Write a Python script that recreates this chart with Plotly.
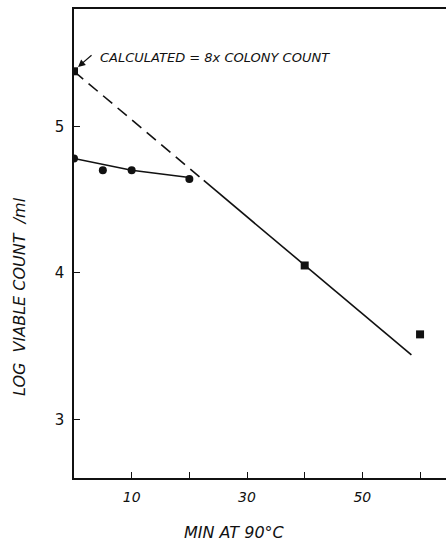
import plotly.graph_objects as go

# Data
circle_x = [0, 5, 10, 20]
circle_y = [4.78, 4.70, 4.70, 4.64]
square_x = [0, 40, 60]
square_y = [5.375, 4.05, 3.58]
fit1_x = [0, 10, 20]
fit1_y = [4.78, 4.70, 4.65]
dash_x = [0, 22.5]
dash_y = [5.375, 4.63]
fit2_x = [22.5, 58.5]
fit2_y = [4.63, 3.44]
xtick_vals = [10, 20, 30, 40, 50, 60]
xtick_text = ["10", "", "30", "", "50", ""]
ytick_vals = [3, 4, 5]
ytick_text = ["3", "4", "5"]

FONT = "DejaVu Sans"
BLACK = "#111111"

fig = go.Figure()
fig.add_trace(go.Scatter(x=fit1_x, y=fit1_y, mode="lines",
                         line=dict(color=BLACK, width=1.6)))
fig.add_trace(go.Scatter(x=dash_x, y=dash_y, mode="lines",
                         line=dict(color=BLACK, width=1.6, dash="12px,7px")))
fig.add_trace(go.Scatter(x=fit2_x, y=fit2_y, mode="lines",
                         line=dict(color=BLACK, width=1.6)))
fig.add_trace(go.Scatter(x=circle_x, y=circle_y, mode="markers",
                         marker=dict(symbol="circle", size=8, color=BLACK)))
fig.add_trace(go.Scatter(x=square_x, y=square_y, mode="markers",
                         marker=dict(symbol="square", size=8, color=BLACK)))

L, T, W, H = 74, 9, 446, 541
B = 478
PW = W - L
PH = B - T

def px(x):
    return (x - L) / PW

def py(y):
    return (B - y) / PH

fig.update_layout(
    width=W, height=H,
    margin=dict(l=L, r=0, t=T, b=H - B, pad=0),
    paper_bgcolor="white", plot_bgcolor="white",
    showlegend=False,
    font=dict(family=FONT, color=BLACK),
    xaxis=dict(range=[0, 64.5], showgrid=False, zeroline=False,
               showline=True, linecolor=BLACK, linewidth=1.5, mirror=True,
               ticks="inside", ticklen=6, tickcolor=BLACK, tickwidth=1,
               tickvals=xtick_vals, ticktext=xtick_text, ticklabelstandoff=5,
               tickfont=dict(size=14, family=FONT, style="italic", color=BLACK)),
    yaxis=dict(range=[2.60, 5.80], showgrid=False, zeroline=False,
               showline=True, linecolor=BLACK, linewidth=1.5,
               ticks="inside", ticklen=6, tickcolor=BLACK, tickwidth=1,
               tickvals=ytick_vals, ticktext=ytick_text, ticklabelstandoff=5,
               tickfont=dict(size=15, family=FONT, color=BLACK)),
)

fig.add_annotation(text="CALCULATED = 8x COLONY COUNT", xref="paper", yref="paper",
                   x=px(98), y=py(57), xanchor="left", yanchor="middle", showarrow=False,
                   font=dict(size=13, family=FONT, style="italic", color=BLACK))
fig.add_annotation(x=0.7, y=5.405, xref="x", yref="y", text="", showarrow=True,
                   ax=15, ay=-13, arrowhead=2, arrowsize=1.2, arrowwidth=1.2,
                   arrowcolor=BLACK)
fig.add_annotation(text="MIN AT 90°C", xref="paper", yref="paper",
                   x=px(234), y=py(532), xanchor="center", yanchor="middle",
                   showarrow=False,
                   font=dict(size=16, family=FONT, style="italic", color=BLACK))
fig.add_annotation(text="LOG  VIABLE COUNT  /ml", xref="paper", yref="paper",
                   x=px(20), y=py(297), xanchor="center", yanchor="middle",
                   textangle=-90, showarrow=False,
                   font=dict(size=16, family=FONT, style="italic", color=BLACK))

fig.write_html("out.html")
